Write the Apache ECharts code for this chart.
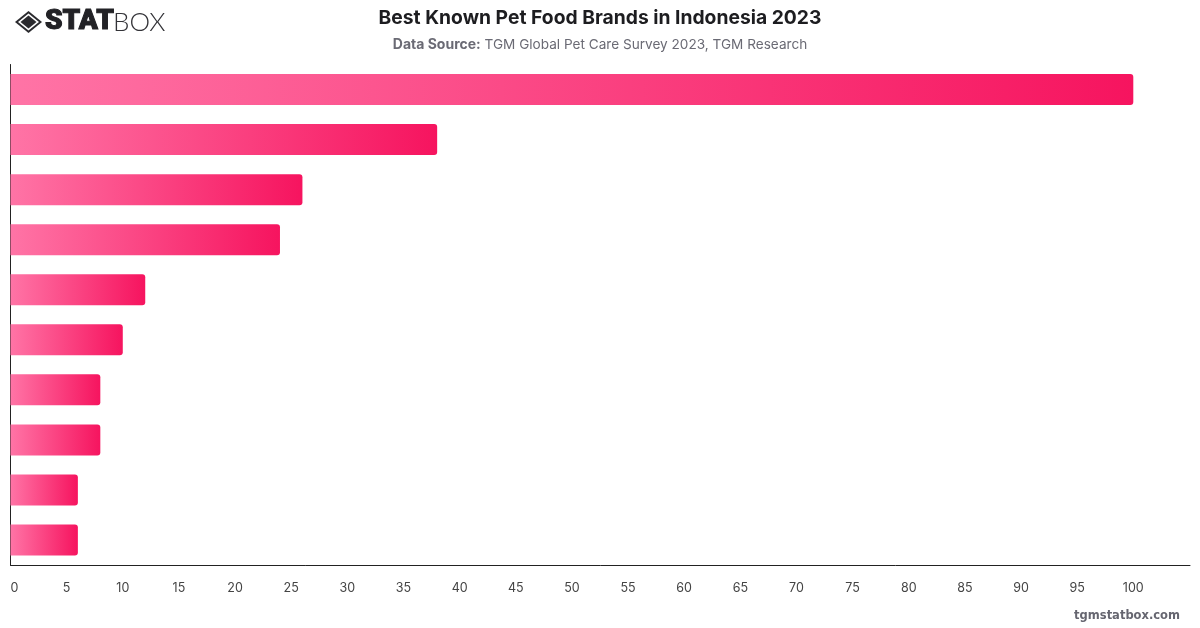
<!DOCTYPE html>
<html>
<head>
<meta charset="utf-8">
<style>html,body{margin:0;padding:0;background:#fff}#chart{width:1200px;height:628px}</style>
<script src="https://cdn.jsdelivr.net/npm/echarts@6/dist/echarts.min.js"></script>
</head>
<body>
<div id="chart"></div>
<script>
// Awareness score per brand rank; brand names are not printed on this chart.
const categories = ['#1','#2','#3','#4','#5','#6','#7','#8','#9','#10'];
const values = [100,38,26,24,12,10,8,8,6,6];
const titleText = 'Best Known Pet Food Brands in Indonesia 2023';
const sourceLabel = 'Data Source:';
const sourceText = 'TGM Global Pet Care Survey 2023, TGM Research';
const siteText = 'tgmstatbox.com';

const chart = echarts.init(document.getElementById('chart'), null, {renderer:'canvas'});
const font = 'Inter';
const barFill = new echarts.graphic.LinearGradient(0,0,1,0,[
  {offset:0,color:'#ff74a6'},
  {offset:1,color:'#f6145f'}
]);

chart.setOption({
  animation:false,
  backgroundColor:'#fff',
  title:[
    {
      left:'center',top:4,
      text:titleText,
      textStyle:{fontFamily:font,fontSize:19.3,fontWeight:700,color:'#1d1d20'}
    },
    {
      left:'center',top:33,
      text:'{b|'+sourceLabel+'} {n|'+sourceText+'}',
      textStyle:{
        fontFamily:font,fontSize:13.6,fontWeight:400,color:'#6a6a74',
        rich:{
          b:{fontFamily:font,fontSize:14,fontWeight:700,color:'#6a6a74'},
          n:{fontFamily:font,fontSize:13.6,fontWeight:400,color:'#6a6a74'}
        }
      }
    }
  ],
  grid:{left:10.5,right:10,top:64.5,bottom:63,containLabel:false},
  xAxis:{
    type:'value',min:0,max:105.05,interval:5,
    axisLine:{show:true,lineStyle:{color:'#222',width:1}},
    axisTick:{show:false},
    splitLine:{show:false},
    axisLabel:{
      alignMinLabel:'left',margin:17,
      formatter:v=>v>100?'':String(v),
      fontFamily:font,fontSize:12.5,color:'#444'
    }
  },
  yAxis:{
    type:'category',inverse:true,data:categories,
    axisLine:{show:true,onZero:false,lineStyle:{color:'#222',width:1}},
    axisTick:{show:false},
    axisLabel:{show:false},
    splitLine:{show:false}
  },
  series:[{
    type:'bar',data:values,barWidth:31,
    itemStyle:{color:barFill,borderRadius:[0,3,3,0]}
  }],
  graphic:[
    // brand mark: outlined diamond around a solid diamond
    {type:'polygon',shape:{points:[[28.5,11],[42,22],[28.5,33],[15,22]]},style:{fill:'#2a2a2e'}},
    {type:'polygon',shape:{points:[[28.5,13.5],[39,22],[28.5,30.5],[18,22]]},style:{fill:'#fff'}},
    {type:'polygon',shape:{points:[[28.5,15.5],[36.5,22],[28.5,28.5],[20.5,22]]},style:{fill:'#2a2a2e'}},
    {type:'text',x:45,y:9,scaleX:1.04,style:{text:'STAT',fontFamily:'Roboto',fontWeight:900,fontSize:27,fill:'#222226',stroke:'#222226',lineWidth:1}},
    {type:'text',x:113,y:10,style:{text:'BOX',fontFamily:'Lato',fontWeight:300,fontSize:26,fill:'#333338'}},
    {type:'text',right:20,top:610,style:{text:siteText,fontFamily:'DejaVu Sans',fontWeight:700,fontSize:11.5,fill:'#666670'}}
  ]
});
</script>
</body>
</html>
